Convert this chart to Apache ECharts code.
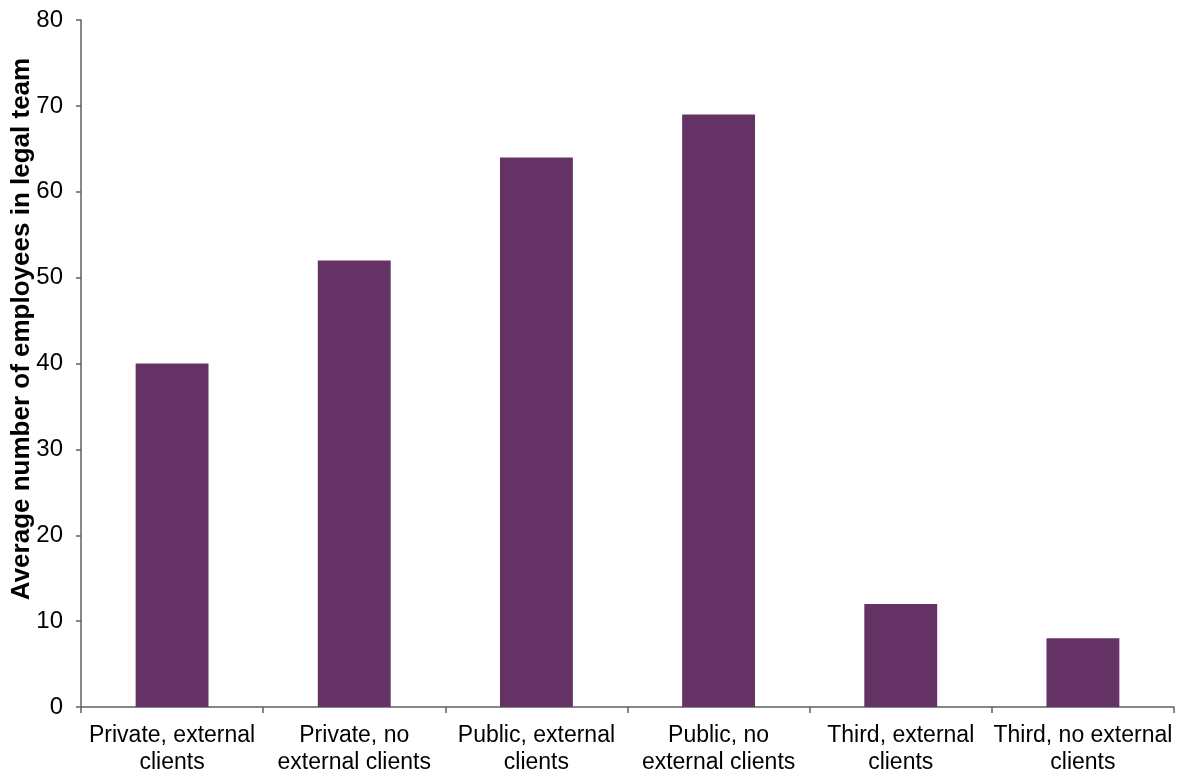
<!DOCTYPE html>
<html>
<head>
<meta charset="utf-8">
<script src="https://cdn.jsdelivr.net/npm/echarts@6/dist/echarts.min.js"></script>
<style>html,body{margin:0;padding:0;background:#fff}#c{width:1192px;height:776px}</style>
</head>
<body>
<div id="c"></div>
<script>
const categories = ["Private, external\nclients", "Private, no\nexternal clients", "Public, external\nclients", "Public, no\nexternal clients", "Third, external\nclients", "Third, no external\nclients"];
const values = [40, 52, 64, 69, 12, 8];
const yTitle = "Average number of employees in legal team";

const chart = echarts.init(document.getElementById('c'), null, {renderer: 'canvas'});
chart.setOption({
  animation: false,
  backgroundColor: '#ffffff',
  grid: {left: 81, right: 18, top: 20, bottom: 67, containLabel: false},
  xAxis: {
    type: 'category',
    data: categories,
    axisLine: {lineStyle: {color: '#606060', width: 1.5}},
    axisTick: {show: true, alignWithLabel: false, length: 6, lineStyle: {color: '#606060', width: 1.5}},
    axisLabel: {color: '#000', fontFamily: 'Liberation Sans, Arial', fontSize: 23, lineHeight: 27, margin: 15, interval: 0}
  },
  yAxis: {
    type: 'value',
    min: 0, max: 80, interval: 10,
    axisLine: {show: true, lineStyle: {color: '#606060', width: 1.5}},
    axisTick: {show: true, length: 5, lineStyle: {color: '#606060', width: 1.5}},
    splitLine: {show: false},
    axisLabel: {color: '#000', fontFamily: 'Liberation Sans, Arial', fontSize: 24, margin: 18}
  },
  graphic: [{
    type: 'text',
    x: 22, y: 329,
    rotation: Math.PI / 2,
    style: {text: yTitle, fill: '#000', font: 'bold 26px "Liberation Sans", Arial', textAlign: 'center', textVerticalAlign: 'middle'}
  }],
  series: [{
    type: 'bar',
    data: values,
    barWidth: '40%',
    itemStyle: {color: '#643264'}
  }]
});
</script>
</body>
</html>
